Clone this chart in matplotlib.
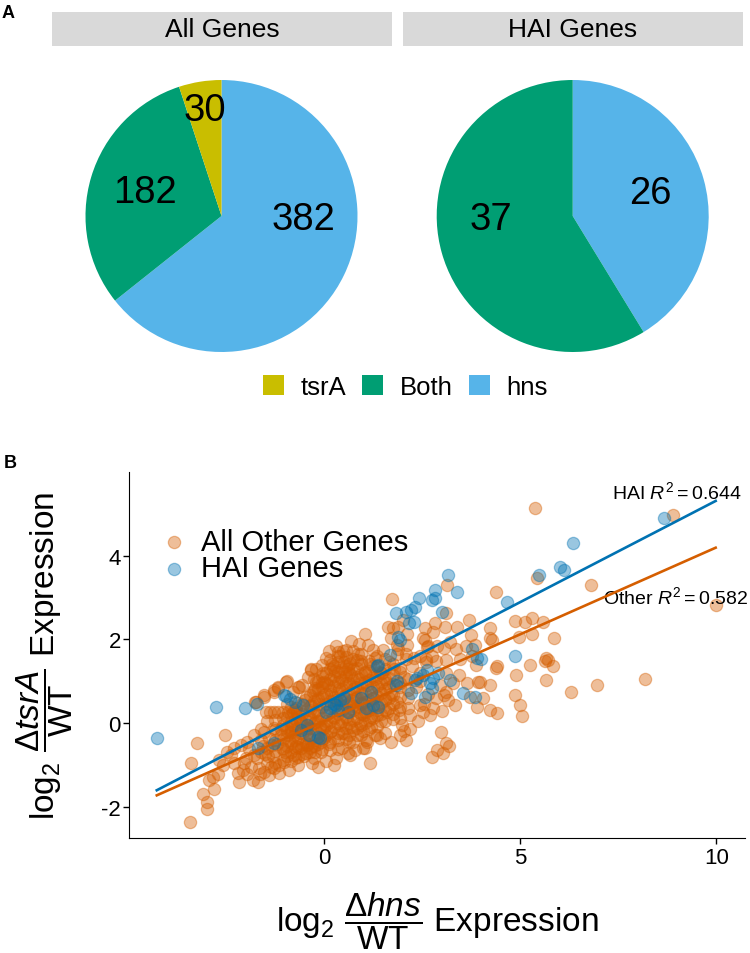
import matplotlib
matplotlib.use("Agg")
import matplotlib.pyplot as plt
from matplotlib.patches import Patch
import numpy as np

plt.rcParams['font.family'] = ['Liberation Sans', 'DejaVu Sans']
plt.rcParams['mathtext.fontset'] = 'custom'
plt.rcParams['mathtext.rm'] = 'Liberation Sans'
plt.rcParams['mathtext.it'] = 'Liberation Sans:italic'
plt.rcParams['mathtext.bf'] = 'Liberation Sans:bold'
plt.rcParams['axes.unicode_minus'] = False

# ---- panel A data ----
pie_groups = ['All Genes', 'HAI Genes']
pie_cats = ['tsrA', 'Both', 'hns']
pie_counts = {'All Genes': [30, 182, 382], 'HAI Genes': [0, 37, 26]}
pie_colors = {'tsrA': '#C9BE00', 'Both': '#009E73', 'hns': '#56B4E9'}

# ---- panel B data: (log2 dhns/WT, log2 dtsrA/WT) ----
other_genes = [
    # lower-left tail
    (-3.42, -2.37), (-3.39, -0.95), (-3.24, -0.47), (-3.09, -1.69), (-2.97, -1.89),
    (-2.98, -2.05), (-2.92, -1.37), (-2.81, -1.57), (-2.84, -1.29), (-2.71, -1.21),
    (-2.67, -0.89), (-2.58, -1.01), (-2.52, -0.29), (-2.46, -0.69), (-2.37, -0.77),
    (-2.29, -0.61), (-2.16, -1.41), (-2.12, -0.53), (-2.07, -1.13), (-1.99, -0.85),
    (-1.95, -1.21), (-1.95, -0.45), (-1.82, -1.37), (-1.78, -0.77), (-1.78, -0.29),
    (-1.69, -1.41), (-1.65, -1.09), (-1.61, -0.69), (-1.52, -1.17), (-1.52, -0.21),
    (-1.44, -0.61), (-1.39, -1.25), (-1.27, -1.09), (-1.27, -0.13), (-1.14, -1.01),
    (-1.10, -0.29), (-1.05, -0.61), (-1.01, -0.93), (-0.88, -1.13), (-0.84, -0.13),
    (-0.76, -0.77), (-0.76, -0.29), (-0.59, -0.61), (-0.59, 0.03), (-0.42, -0.53),
    (-0.42, -0.13), (-0.24, -0.69), (-0.24, 0.03), (-0.08, -0.45), (0.01, -0.13),
    (-2.05, -0.95), (-1.90, -0.62), (-1.85, -1.05), (-1.70, -0.85), (-1.62, -1.22),
    (-1.55, -0.55), (-1.42, -0.78), (-1.35, -1.05), (-1.32, -0.52), (-1.60, -0.15),
    (-1.45, 0.05), (-2.20, -1.20), (-2.30, -0.95),
    # dense lower band
    (-1.60, -0.40), (-1.50, -0.75), (-1.40, -0.35), (-1.30, -0.80), (-1.20, -0.50),
    (-1.10, -0.15), (-1.00, -0.70), (-0.90, -0.40), (-0.80, -0.05), (-0.70, -0.55),
    (-0.60, -0.25), (-0.50, -0.80), (-0.40, -0.50), (-0.30, -0.95), (-0.20, -0.40),
    (-0.10, -0.10), (-1.45, -0.95), (-1.15, -1.20), (-0.95, -0.20), (-0.65, -1.00),
    (-0.35, -0.70), (-0.15, -1.05), (0.05, -0.90), (0.15, -0.65), (0.25, -1.00),
    # row near 0.27 and upper left
    (-1.76, 0.51), (-1.72, 0.50), (-1.54, 0.67), (-1.52, 0.63), (-1.48, 0.27),
    (-1.38, 0.25), (-1.28, 0.27), (-1.28, 0.75), (-1.27, 0.79), (-1.18, 0.87),
    (-1.17, 0.83), (-1.18, 0.26), (-1.05, 0.27), (-0.96, 0.99), (-0.94, 1.00),
    (-0.92, 0.25), (-0.80, 0.27), (-0.68, 0.26), (-0.65, 0.87), (-0.63, 0.87),
    (-0.33, 1.27), (-0.33, 1.29), (-0.20, 0.99), (-0.16, 0.59), (-0.33, 0.43),
    (-0.24, 0.83), (0.01, 0.67), (0.01, 0.99),
    # core, upper-left
    (-0.95, 0.45), (-0.85, 0.20), (-0.78, 0.75), (-0.70, 0.35), (-0.62, 0.05),
    (-0.55, 0.90), (-0.48, 0.55), (-0.40, 1.10), (-0.35, 0.30), (-0.28, 0.75),
    (-0.20, 1.30), (-0.12, 0.45), (-0.05, 0.95), (-0.02, 1.20),
    # core, lower
    (-0.45, -0.30), (-0.38, 0.10), (-0.30, -0.55), (-0.22, -0.15), (-0.15, 0.20),
    (-0.08, -0.70), (0.00, -0.35), (0.06, 0.05), (0.12, -0.50), (0.18, -0.20),
    (0.24, 0.15), (0.30, -0.85), (0.35, -0.40), (0.40, -0.05), (0.46, -0.60),
    (0.52, -0.25), (0.58, 0.10), (0.64, -0.45), (0.70, -0.10), (0.78, -0.65),
    (0.85, -0.30), (0.92, 0.00), (1.00, -0.20), (1.10, -0.45), (1.20, -0.10),
    (1.30, -0.30),
    # core, upper
    (0.05, 1.55), (0.12, 1.72), (0.20, 1.40), (0.28, 1.25), (0.35, 1.60),
    (0.42, 1.10), (0.50, 1.45), (0.55, 0.95), (0.62, 1.30), (0.70, 1.15),
    (0.78, 0.85), (0.85, 1.50), (0.90, 1.05), (0.98, 0.70), (1.05, 1.20),
    (1.10, 0.90), (1.18, 1.40), (1.25, 0.60), (1.30, 1.05), (1.40, 0.80),
    (1.48, 1.20), (1.55, 0.55), (1.60, 0.95), (1.70, 0.70), (1.78, 1.30),
    (1.85, 0.50), (1.95, 0.85), (2.05, 1.10), (2.15, 0.60), (2.25, 1.35),
    (0.10, 0.90), (0.18, 0.70), (0.25, 1.00), (0.30, 0.55), (0.38, 0.80),
    (0.45, 0.40), (0.52, 0.65), (0.60, 0.30), (0.68, 0.55), (0.75, 0.40),
    (0.82, 0.60), (0.88, 0.25), (0.95, 0.45), (1.02, 0.20), (1.12, 0.35),
    (1.20, 0.15), (1.35, 0.30), (1.45, 0.05), (1.60, 0.25), (1.75, 0.10),
    (1.90, 0.30), (2.00, -0.05), (2.20, 0.20),
    # upper ring
    (0.23, 1.31), (0.40, 1.59), (0.48, 1.71), (0.53, 1.23), (0.66, 1.43),
    (0.87, 1.66), (0.89, 1.90), (0.95, 1.47), (1.04, 2.12), (1.12, 1.86),
    (1.25, 1.74), (1.42, 1.23), (1.63, 2.30), (1.72, 2.02), (1.74, 2.97),
    (1.76, 2.26), (1.85, 1.86), (1.86, 1.64), (1.89, 1.78), (1.89, 2.30),
    (1.93, 1.32), (2.02, 2.46), (2.08, 1.54), (2.10, 1.66), (2.12, 2.12),
    (2.12, 1.86), (2.44, 1.61), (2.53, 2.02), (2.58, 2.26), (2.58, 1.98),
    (2.63, 1.81), (2.65, 1.85), (2.78, 2.18), (2.82, 2.38), (2.86, 1.47),
    (2.87, 1.83), (3.05, 1.80), (3.08, 2.30), (3.11, 2.62), (3.14, 3.30),
    (3.21, 1.94), (3.36, 1.78), (3.39, 2.30), (3.46, 1.54), (3.63, 1.83),
    (0.30, 1.85), (0.55, 1.75), (0.70, 1.95), (1.30, 1.55), (1.50, 1.75),
    (1.65, 1.45), (2.30, 1.55), (2.45, 1.20), (2.60, 1.45), (2.75, 1.60),
    (3.10, 1.50), (2.61, 1.54), (3.12, 1.19),
    # right of core
    (1.08, -0.41), (0.99, -0.61), (0.66, -0.77), (1.17, -0.97), (1.34, -0.29),
    (1.42, -0.37), (1.05, -0.61), (0.62, -0.73), (1.55, -0.25), (1.70, -0.45),
    (1.95, -0.30), (2.03, -0.20), (2.10, -0.41), (2.20, -0.15), (2.40, 0.05),
    (2.44, 0.43), (2.53, 0.27), (2.55, 0.45), (2.70, 0.20), (2.74, -0.81),
    (2.78, 0.35), (2.85, 0.60), (2.87, -0.65), (2.95, 0.90), (2.99, -0.21),
    (3.02, 0.28), (3.04, -0.71), (3.07, 0.67), (3.10, 0.75), (3.12, -0.49),
    (3.17, 0.55), (3.19, -0.55), (3.30, 0.95), (3.33, 0.43), (3.45, 1.15),
    (3.65, 0.95), (3.72, 0.63), (3.89, 0.39), (3.93, 0.99), (3.97, 0.97),
    (4.06, 0.59), (2.35, 0.85), (2.45, 1.00), (2.65, 0.70),
    # sparse right side
    (3.70, 2.46), (3.74, 2.10), (3.76, 1.59), (3.84, 1.86), (3.87, 1.38),
    (4.22, 0.91), (4.23, 2.02), (4.23, 0.31), (4.24, 2.26), (4.27, 1.98),
    (4.38, 3.14), (4.38, 1.32), (4.40, 1.35), (4.40, 0.23), (4.86, 2.44),
    (4.89, 1.15), (4.86, 0.67), (4.99, 0.43), (5.04, 0.17), (5.12, 2.42),
    (5.25, 1.38), (5.29, 2.50), (5.29, 2.12), (5.42, 3.46), (5.38, 5.14),
    (5.59, 2.41), (5.63, 1.47), (5.70, 1.50), (5.84, 1.35), (5.65, 1.03),
    (5.86, 2.02), (6.29, 0.75), (6.80, 3.30), (6.95, 0.91), (8.18, 1.05),
    (8.90, 4.98), (9.98, 2.82), (4.97, 2.06), (5.65, 1.56),
]

# the solid central blob, read column by column: x -> y values
dense_core = {
    -1.25: [-0.95, -0.68, -0.42, -0.18, 0.08],
    -1.05: [-0.88, -0.62, -0.38, -0.05, 0.12],
    -0.85: [-0.92, -0.70, -0.48, -0.22, 0.02, 0.38],
    -0.65: [-0.82, -0.58, -0.35, -0.12, 0.15, 0.48],
    -0.45: [-0.72, -0.48, -0.18, 0.05, 0.32, 0.62],
    -0.25: [-0.85, -0.55, -0.28, 0.00, 0.25, 0.52, 0.78, 1.05],
    -0.05: [-0.62, -0.38, -0.15, 0.12, 0.38, 0.62, 0.85, 1.12, 1.38],
    0.15: [-0.45, -0.22, 0.02, 0.28, 0.52, 0.78, 1.05, 1.28, 1.50],
    0.35: [-0.62, -0.25, 0.00, 0.22, 0.48, 0.72, 0.98, 1.22, 1.45, 1.70],
    0.55: [-0.38, -0.12, 0.15, 0.42, 0.68, 0.88, 1.12, 1.35, 1.58],
    0.75: [-0.45, -0.18, 0.08, 0.32, 0.58, 0.82, 1.02, 1.28, 1.52, 1.72],
    0.95: [-0.28, -0.05, 0.22, 0.48, 0.72, 0.95, 1.18, 1.42, 1.65],
    1.15: [-0.15, 0.08, 0.32, 0.55, 0.78, 1.02, 1.25, 1.48],
    1.35: [-0.08, 0.18, 0.42, 0.65, 0.88, 1.12, 1.35, 1.60],
    1.55: [0.05, 0.32, 0.58, 0.82, 1.05, 1.28, 1.52],
    1.75: [0.22, 0.45, 0.68, 0.92, 1.15, 1.42],
    1.95: [0.12, 0.38, 0.62, 0.95, 1.22],
    2.15: [0.35, 0.78, 1.05],
}
dense_core_inner = {
    -0.95: [-0.80, -0.55, -0.30, -0.10, 0.15],
    -0.75: [-0.85, -0.60, -0.40, -0.15, 0.10, 0.30],
    -0.55: [-0.75, -0.50, -0.25, 0.00, 0.22, 0.45],
    -0.35: [-0.60, -0.38, -0.12, 0.12, 0.40, 0.68],
    -0.15: [-0.50, -0.25, 0.05, 0.30, 0.55, 0.80, 1.00],
    0.05: [-0.30, -0.05, 0.20, 0.45, 0.70, 0.95, 1.20],
    0.25: [-0.35, -0.10, 0.12, 0.38, 0.62, 0.88, 1.12, 1.35],
    0.45: [-0.25, 0.05, 0.30, 0.55, 0.80, 1.02, 1.28],
    0.65: [-0.30, 0.00, 0.25, 0.48, 0.72, 0.95, 1.20, 1.42],
    0.85: [-0.12, 0.12, 0.38, 0.62, 0.85, 1.10, 1.32],
    1.05: [0.00, 0.25, 0.50, 0.72, 0.98, 1.22],
    1.25: [0.12, 0.38, 0.60, 0.85, 1.10, 1.35],
    1.45: [0.22, 0.48, 0.72, 0.95, 1.20],
    1.65: [0.35, 0.60, 0.85, 1.08],
}

hai_genes = [
    (-4.26, -0.37), (-2.76, 0.38), (-2.01, 0.36), (-1.70, 0.46), (-1.69, -0.59),
    (-1.27, -0.47), (-1.01, 0.67), (-0.98, 0.65), (-0.86, 0.57), (-0.75, 0.51),
    (-0.54, 0.43), (-0.59, -0.17), (-0.44, -0.06), (-0.37, -0.29), (-0.16, -0.33),
    (-0.11, -0.37), (0.05, 0.25), (0.15, 0.35), (0.25, 0.45), (0.31, 0.43),
    (0.40, 0.55), (0.50, 0.60), (0.35, 0.30), (0.62, 0.27), (0.94, 0.59),
    (1.08, 0.35), (1.21, 0.75), (1.26, 0.43), (1.34, 1.35), (1.38, 1.38),
    (1.38, 0.39), (1.68, 1.62), (1.84, 0.91), (1.86, 1.00), (1.89, 2.06),
    (1.95, 1.98), (1.84, 2.62), (2.08, 2.66), (2.21, 2.70), (2.32, 2.78),
    (2.42, 3.00), (2.16, 2.38), (2.30, 2.42), (2.23, 0.71), (2.32, 1.03),
    (2.36, 1.07), (2.53, 1.15), (2.58, 0.63), (2.63, 1.27), (2.70, 0.95),
    (2.74, 0.83), (2.79, 1.07), (2.90, 1.19), (2.74, 2.94), (2.82, 2.98),
    (2.84, 3.18), (3.02, 2.66), (3.15, 3.53), (3.40, 3.14), (3.21, 1.03),
    (3.53, 0.71), (3.85, 0.63), (3.78, 1.77), (3.90, 1.56), (3.99, 1.54),
    (4.66, 2.89), (4.88, 1.61), (5.47, 3.54), (6.01, 3.72), (6.12, 3.66),
    (6.35, 4.30), (8.67, 4.91),
]

# linear fits (intercept, slope) and R^2
hai_fit = (0.46, 0.486)
other_fit = (0.04, 0.416)
hai_r2 = 0.644
other_r2 = 0.582

orange = '#D55E00'
blue = '#0072B2'

fig = plt.figure(figsize=(7.5, 9.54), dpi=100)
W, H = 750.0, 954.0


def fig_box(x0, y0, x1, y1):
    # pixel box (top-left origin) -> figure fraction rect
    return [x0 / W, 1 - y1 / H, (x1 - x0) / W, (y1 - y0) / H]


# ---- panel A ----
strip_boxes = [(51.7, 12.7, 392.3, 47.3), (402.9, 12.7, 742.6, 47.3)]
pie_centres = [221.5, 572.7]
pie_r = 136
label_pos = {
    'All Genes': [(-0.12, 0.78), (-0.56, 0.18), (0.60, -0.02)],
    'HAI Genes': [None, (-0.60, -0.02), (0.57, 0.17)],
}

for g, sb, cx in zip(pie_groups, strip_boxes, pie_centres):
    sax = fig.add_axes(fig_box(*sb))
    sax.set_facecolor('#D9D9D9')
    sax.set_xticks([])
    sax.set_yticks([])
    for s in sax.spines.values():
        s.set_visible(False)
    sax.text(0.5, 0.5, g, ha='center', va='center', fontsize=19,
             transform=sax.transAxes)

    pax = fig.add_axes(fig_box(cx - pie_r, 217 - pie_r, cx + pie_r, 217 + pie_r))
    vals = pie_counts[g]
    order = [2, 1, 0]  # hns, Both, tsrA clockwise from the top
    pax.pie([vals[i] for i in order],
            colors=[pie_colors[pie_cats[i]] for i in order],
            startangle=90, counterclock=False, radius=1,
            wedgeprops=dict(linewidth=0))
    pax.set_xlim(-1, 1)
    pax.set_ylim(-1, 1)
    pax.set_aspect('equal')
    pax.axis('off')
    for v, pos in zip(vals, label_pos[g]):
        if v > 0 and pos is not None:
            pax.text(pos[0], pos[1], str(v), ha='center', va='center',
                     fontsize=27.5)

handles = [Patch(facecolor=pie_colors[c], edgecolor='none') for c in pie_cats]
fig.legend(handles, pie_cats, loc='center', bbox_to_anchor=(0.5407, 1 - 388 / H),
           ncol=3, frameon=False, fontsize=18.5, handlelength=0.8,
           handleheight=0.8, handletextpad=0.66, columnspacing=0.63)

fig.text(2 / W, 1 - 13 / H, 'A', fontsize=13, fontweight='bold', va='center')
fig.text(4 / W, 1 - 464 / H, 'B', fontsize=13, fontweight='bold', va='center')

# ---- panel B ----
ax = fig.add_axes(fig_box(129.3, 472.7, 744.7, 839.3))
core_pts = [(x, y) for d in (dense_core, dense_core_inner)
            for x, ys in d.items() for y in ys]
ox, oy = zip(*(other_genes + core_pts))
hx, hy = zip(*hai_genes)
ax.scatter(ox, oy, s=78, color=orange, alpha=0.4, linewidths=0.9,
           edgecolors=orange, label='All Other Genes', zorder=2)
ax.scatter(hx, hy, s=78, color=blue, alpha=0.4, linewidths=0.9,
           edgecolors=blue, label='HAI Genes', zorder=3)

xs = np.array([min(ox + hx), max(ox + hx)])
ax.plot(xs, other_fit[0] + other_fit[1] * xs, color=orange, lw=1.9, zorder=4)
ax.plot(xs, hai_fit[0] + hai_fit[1] * xs, color=blue, lw=1.9, zorder=4)

ax.text(9.0, 5.54, r'HAI $R^2 = %.3f$' % hai_r2, ha='center', va='center',
        fontsize=14)
ax.text(8.95, 3.04, r'Other $R^2 = %.3f$' % other_r2, ha='center', va='center',
        fontsize=14)

ax.set_xlim(-4.96, 10.72)
ax.set_ylim(-2.76, 6.01)
ax.set_xticks([0, 5, 10])
ax.set_yticks([-2, 0, 2, 4])
ax.spines['top'].set_visible(False)
ax.spines['right'].set_visible(False)
ax.tick_params(labelsize=16, length=4, width=1, pad=2)
ax.set_xlabel(r'$\log_2\,\dfrac{\Delta \mathit{hns}}{\mathrm{WT}}$ Expression',
              fontsize=24, labelpad=16)
ax.set_ylabel(r'$\log_2\,\dfrac{\Delta \mathit{tsrA}}{\mathrm{WT}}$ Expression',
              fontsize=24, labelpad=19)

ax.legend(loc='upper left', bbox_to_anchor=(0.02, 0.887), frameon=False,
          fontsize=21, handletextpad=0.35, labelspacing=-0.05, borderpad=0,
          handlelength=1.2)

fig.savefig('out.png', dpi=100)
